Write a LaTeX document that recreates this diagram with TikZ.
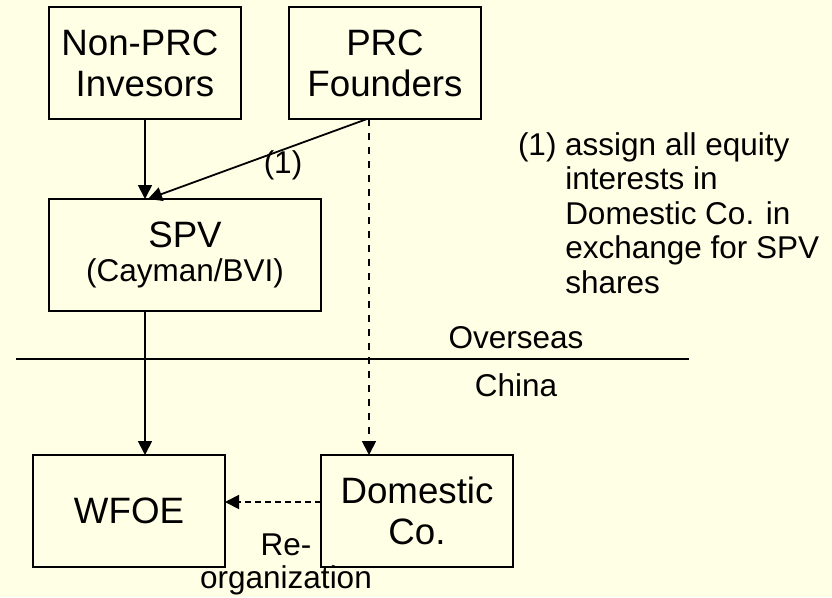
\documentclass[tikz,border=0pt]{standalone}
\usepackage{fontspec}
\setmainfont{Liberation Sans}
\usetikzlibrary{arrows.meta}
\definecolor{paper}{RGB}{255,255,230}
\begin{document}
\begin{tikzpicture}[x=1pt,y=-1pt,
  every node/.style={inner sep=0pt, outer sep=0pt},
  entity/.style={draw, line width=2pt, minimum width=192pt, minimum height=112pt,
                 align=center, font=\fontsize{36.7}{41}\selectfont},
  lbl/.style={font=\fontsize{31.5}{34.5}\selectfont},
  tip/.style={-{Triangle[length=14pt,width=14pt]}},
  conn/.style={tip, line width=1.8pt},
  vdash/.style={tip, line width=1.8pt, dash pattern=on 7pt off 7pt},
  hdash/.style={tip, line width=1.8pt, dash pattern=on 6pt off 4pt}
]
% page background
\fill[paper] (0,0) rectangle (832,597);
\useasboundingbox (0,0) rectangle (832,597);

% entities
\node[entity] (non)  at (145,63)  {Non-PRC\kern10.2pt\\Invesors};
\node[entity] (prc)  at (385,63)  {PRC\\Founders};
\node[entity, minimum width=272pt] (spv) at (185,255)
  {SPV\\[-7pt]{\fontsize{31.5}{34.5}\selectfont (Cayman/BVI)}};
\node[entity] (wfoe) at (129,511) {WFOE};
\node[entity] (dom)  at (417,511) {Domestic\\Co.};

% overseas / China divider
\coordinate (divL) at (16,359);
\coordinate (divR) at (689,359);
\draw[line width=1.8pt] (divL) -- (divR);
\node[lbl, anchor=base] (overseas) at (516,348) {Overseas};
\node[lbl, anchor=base] (china)    at (516,396) {China};

% connectors
\draw[conn] (non.south) -- (non.south |- spv.north);
\draw[conn] ([xshift=78pt]prc.south west) -- ([xshift=99pt]spv.north west);
\draw[vdash] ([xshift=80pt]prc.south west) -- ([xshift=80pt]prc.south west |- dom.north);
\draw[conn] ([xshift=96pt]spv.south west) -- ([xshift=96pt]spv.south west |- wfoe.north);
\draw[hdash] ([yshift=9pt]dom.west) -- ([yshift=9pt]dom.west -| wfoe.east);

% connector labels
\node[lbl, anchor=base] (step1) at (283,173) {(1)};
\node[lbl, align=center, anchor=north, font=\fontsize{31.5}{33}\selectfont] (reorg)
  at (286,533.4) {Re-\\organization};

% note
\node[lbl, anchor=base west] (note) at (518,155)
  {\begin{tabular}[t]{@{}l@{ }l@{}}
     (1) & assign all equity\\
         & interests in\\
         & Domestic Co. in\\
         & exchange for SPV\\
         & shares
   \end{tabular}};
\end{tikzpicture}
\end{document}
